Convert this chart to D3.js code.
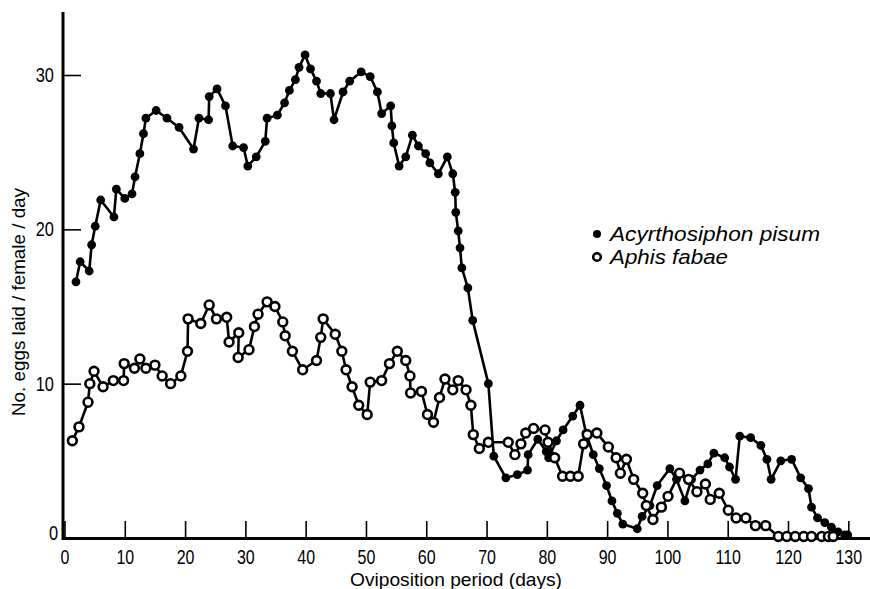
<!DOCTYPE html>
<html>
<head>
<meta charset="utf-8">
<script src="https://cdn.jsdelivr.net/npm/d3@7/dist/d3.min.js"></script>
<style>
  html, body { margin: 0; padding: 0; background: #fff; }
  svg { display: block; }
  text { font-family: "Liberation Sans", Arial, sans-serif; fill: #000; }
</style>
</head>
<body>
<svg id="chart" width="870" height="589"></svg>
<script>
// ---- data (day, eggs per female per day) ----
const pisumDays = [1.9,2.6,4.1,4.5,5.1,6.0,8.2,8.6,10.0,11.2,11.7,12.5,13.1,13.5,15.2,17.0,19.0,21.4,22.3,23.9,24.0,25.3,26.7,27.9,29.7,30.4,31.8,33.3,33.6,35.3,36.5,37.3,38.3,38.9,39.9,40.8,41.8,42.5,44.1,44.7,46.2,47.3,49.2,50.7,51.9,52.6,54.1,54.3,54.6,55.5,56.6,57.7,58.7,59.9,60.6,62.0,63.5,64.4,64.8,64.9,65.3,65.6,65.9,66.9,67.7,70.3,71.2,73.2,75.1,76.8,76.9,78.5,79.9,80.3,81.6,82.7,84.3,85.5,86.5,87.7,88.7,89.9,90.8,91.7,92.6,95.0,95.8,97.1,98.3,100.4,101.5,102.9,104.0,105.4,106.7,107.7,109.5,110.3,111.3,112.0,113.8,115.5,116.5,117.2,118.8,120.6,122.1,123.4,123.9,124.9,126.1,127.2,128.3,129.4,129.9];
const pisumEggs = [16.6,17.9,17.3,19.0,20.2,21.9,20.8,22.6,22.0,22.3,23.4,24.9,26.2,27.2,27.7,27.2,26.6,25.2,27.2,27.1,28.6,29.1,28.0,25.4,25.3,24.1,24.7,25.7,27.2,27.4,28.2,29.0,29.7,30.5,31.3,30.4,29.6,28.8,28.8,27.1,28.9,29.6,30.2,29.9,28.9,27.5,28.0,26.7,25.6,24.1,24.7,26.1,25.4,24.9,24.3,23.6,24.7,23.6,22.4,21.1,19.9,18.8,17.5,16.2,14.1,10.0,5.3,3.9,4.1,4.4,5.4,6.4,5.6,5.2,6.3,7.0,7.9,8.6,6.8,5.4,4.5,3.4,2.4,1.6,0.9,0.6,1.4,2.1,3.4,4.5,3.8,2.4,3.8,4.4,4.8,5.5,5.2,4.6,3.8,6.6,6.5,6.0,5.1,3.8,5.0,5.1,3.9,3.2,2.0,1.3,1.0,0.7,0.4,0.2,0.2];

const fabaeDays = [1.3,2.4,3.9,4.2,4.9,6.4,8.1,9.8,9.9,11.6,12.5,13.5,15.0,16.2,17.6,19.3,20.4,20.5,22.6,24.0,25.2,26.9,27.3,28.9,28.8,30.6,31.5,32.1,33.6,34.9,36.2,36.6,37.8,39.5,41.8,42.5,42.9,44.9,46.0,46.7,47.7,48.8,50.2,50.7,52.6,53.9,55.2,56.6,57.3,57.4,59.2,60.2,61.2,62.2,63.1,64.4,65.3,66.6,67.4,67.8,68.8,70.3,73.6,74.7,75.7,76.5,77.8,79.7,80.2,81.3,82.6,83.9,85.2,86.1,86.7,88.3,90.2,91.5,92.2,93.2,94.4,95.9,96.5,97.6,99.0,100.1,102.0,103.5,104.9,106.3,107.1,108.6,110.1,111.4,113.0,114.6,116.3,118.4,119.8,121.2,122.6,123.9,125.6,126.7,127.5];
const fabaeEggs = [6.3,7.2,8.8,10.0,10.8,9.8,10.2,10.2,11.3,11.0,11.6,11.0,11.2,10.5,10.0,10.5,12.1,14.2,13.9,15.1,14.2,14.3,12.7,13.3,11.7,12.2,13.7,14.5,15.3,15.0,14.0,13.1,12.1,10.9,11.5,13.0,14.2,13.2,12.1,10.9,9.8,8.6,8.0,10.1,10.2,11.3,12.1,11.5,10.5,9.4,9.5,8.0,7.5,9.1,10.3,9.6,10.2,9.6,8.6,6.7,5.8,6.2,6.2,5.4,6.1,6.8,7.1,7.0,6.2,5.2,4.0,4.0,4.0,6.1,6.7,6.8,5.9,5.2,4.2,5.1,3.8,2.9,2.1,1.2,2.0,2.7,4.2,3.8,3.0,3.5,2.5,2.9,1.8,1.3,1.3,0.8,0.8,0.1,0.1,0.1,0.1,0.1,0.1,0.1,0.1];

const xTicks = [0,10,20,30,40,50,60,70,80,90,100,110,120,130];
const yTicks = [0,10,20,30];
const seriesNames = ["Acyrthosiphon pisum", "Aphis fabae"];
const xTitle = "Oviposition period (days)";
const yTitle = "No. eggs laid / female / day";

// ---- drawing ----
const svg = d3.select("#chart");
const x = d3.scaleLinear().domain([0, 130]).range([64.5, 848.3]);
const y = d3.scaleLinear().domain([0, 30]).range([538, 75]);

const pisum = pisumDays.map((d, i) => [d, pisumEggs[i]]);
const fabae = fabaeDays.map((d, i) => [d, fabaeEggs[i]]);

// x axis
const xAxis = svg.append("g").attr("transform", "translate(0,538)")
  .call(d3.axisBottom(x).tickValues(xTicks).tickSize(-17).tickSizeOuter(0).tickPadding(12));
xAxis.select(".domain").remove();
xAxis.selectAll(".tick line").attr("stroke", "#000").attr("stroke-width", 1.6);
xAxis.selectAll(".tick text").attr("font-size", 19.5).attr("dy", "0.71em")
  .attr("transform", "scale(0.82,1)");
svg.append("line").attr("x1", 62).attr("x2", 870).attr("y1", 538.5).attr("y2", 538.5)
  .attr("stroke", "#000").attr("stroke-width", 3);

// y axis
const yAxis = svg.append("g").attr("transform", "translate(63,0)")
  .call(d3.axisLeft(y).tickValues(yTicks).tickSize(-18).tickSizeOuter(0).tickPadding(11));
yAxis.select(".domain").remove();
yAxis.selectAll(".tick line").attr("stroke", "#000").attr("stroke-width", 1.6);
yAxis.selectAll(".tick text").attr("font-size", 20).attr("transform", "scale(0.82,1)");
yAxis.selectAll(".tick").filter(d => d === 0).select("text").attr("x", -6).attr("dy", "0.05em");
svg.append("line").attr("x1", 63).attr("x2", 63).attr("y1", 12).attr("y2", 540)
  .attr("stroke", "#000").attr("stroke-width", 3);

// titles
svg.append("text").attr("x", 456).attr("y", 586).attr("text-anchor", "middle")
  .attr("font-size", 18.5).attr("textLength", 212).attr("lengthAdjust", "spacingAndGlyphs").text(xTitle);
svg.append("text").attr("transform", "translate(25,302) rotate(-90)").attr("text-anchor", "middle")
  .attr("font-size", 19).attr("textLength", 228).attr("lengthAdjust", "spacingAndGlyphs").text(yTitle);

const line = d3.line().x(d => x(d[0])).y(d => y(d[1]));

// Acyrthosiphon pisum (filled)
svg.append("path").datum(pisum).attr("d", line).attr("fill", "none")
  .attr("stroke", "#000").attr("stroke-width", 2.6).attr("stroke-linejoin", "round");
svg.append("g").selectAll("circle").data(pisum).join("circle")
  .attr("cx", d => x(d[0])).attr("cy", d => y(d[1])).attr("r", 4.4).attr("fill", "#000");

// Aphis fabae (open)
svg.append("path").datum(fabae).attr("d", line).attr("fill", "none")
  .attr("stroke", "#000").attr("stroke-width", 2.6).attr("stroke-linejoin", "round");
svg.append("g").selectAll("circle").data(fabae).join("circle")
  .attr("cx", d => x(d[0])).attr("cy", d => y(d[1])).attr("r", 4.4)
  .attr("fill", "#fff").attr("stroke", "#000").attr("stroke-width", 2.6);

// legend
const leg = svg.append("g");
leg.append("circle").attr("cx", 597).attr("cy", 234).attr("r", 4).attr("fill", "#000");
leg.append("circle").attr("cx", 597).attr("cy", 257).attr("r", 3.8).attr("fill", "#fff")
  .attr("stroke", "#000").attr("stroke-width", 2.6);
leg.append("text").attr("x", 610).attr("y", 241).attr("font-size", 20).attr("font-style", "italic")
  .attr("textLength", 210).attr("lengthAdjust", "spacingAndGlyphs").text(seriesNames[0]);
leg.append("text").attr("x", 610).attr("y", 264).attr("font-size", 20).attr("font-style", "italic")
  .attr("textLength", 118).attr("lengthAdjust", "spacingAndGlyphs").text(seriesNames[1]);
</script>
</body>
</html>
